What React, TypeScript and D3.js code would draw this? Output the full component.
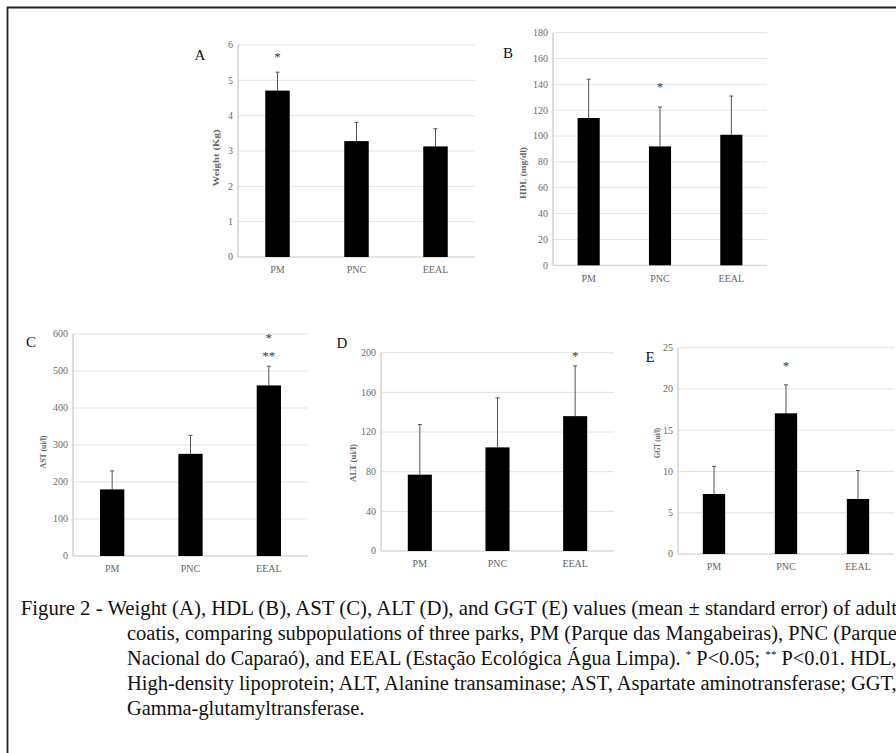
import React, { useLayoutEffect, useRef, useState } from 'react';
import * as d3 from 'd3';

const groups = ['PM', 'PNC', 'EEAL'];

const weightMean = [4.71, 3.28, 3.13];
const weightSE = [0.52, 0.53, 0.5];
const hdlMean = [114, 92, 101];
const hdlSE = [30, 30.5, 30];
const astMean = [180, 276, 461];
const astSE = [50, 50, 52];
const altMean = [77, 104.5, 136];
const altSE = [50.5, 50, 50.7];
const ggtMean = [7.27, 17.05, 6.67];
const ggtSE = [3.35, 3.45, 3.45];

// significance marks per group
const weightStars = [['*'], [], []];
const hdlStars = [[], ['*'], []];
const astStars = [[], [], ['*', '**']];
const altStars = [[], [], ['*']];
const ggtStars = [[], ['*'], []];

const captionLines = [
  'Figure 2 - Weight (A), HDL (B), AST (C), ALT (D), and GGT (E) values (mean ± standard error) of adult',
  'coatis, comparing subpopulations of three parks, PM (Parque das Mangabeiras), PNC (Parque',
  'Nacional do Caparaó), and EEAL (Estação Ecológica Água Limpa). |*| P<0.05; |**| P<0.01. HDL,',
  'High-density lipoprotein; ALT, Alanine transaminase; AST, Aspartate aminotransferase; GGT,',
  'Gamma-glutamyltransferase.',
];

type PanelProps = {
  letter: string;
  title: string;
  titleLen: number;
  mean: number[];
  se: number[];
  stars: string[][];
  max: number;
  step: number;
  x0: number;
  x1: number;
  yTop: number;
  yBottom: number;
  letterX: number;
  letterY: number;
  titleX: number;
  titleY: number;
  starY: number[];
};

const serifStyle = { fontFamily: "'Liberation Serif', 'Times New Roman', 'DejaVu Serif', serif" };

const Panel = (p: PanelProps) => {
  const x = d3.scalePoint<string>().domain(groups).range([p.x0, p.x1]).padding(0.5);
  const y = d3.scaleLinear().domain([0, p.max]).range([p.yBottom, p.yTop]);
  const bw = x.step() * 0.31;
  const ticks = d3.range(0, p.max + p.step / 2, p.step);
  return (
    <g style={serifStyle}>
      {ticks.map((t) => (
        <g key={t}>
          <line x1={p.x0} x2={p.x1} y1={y(t)} y2={y(t)} stroke={t === 0 ? '#c8c8c8' : '#e3e3e3'} strokeWidth={1} />
          <text x={p.x0 - 5} y={y(t)} dy="0.33em" textAnchor="end" fontSize={10} fill="#6a6a6a">
            {t}
          </text>
        </g>
      ))}
      <line x1={p.x0} x2={p.x0} y1={p.yTop} y2={p.yBottom} stroke="#bdbdbd" strokeWidth={1} />
      {groups.map((g, i) => {
        const cx = x(g) as number;
        const top = y(p.mean[i] + p.se[i]);
        return (
          <g key={g}>
            <line x1={cx} x2={cx} y1={top} y2={y(p.mean[i])} stroke="#555" strokeWidth={1} />
            <line x1={cx - 2} x2={cx + 2} y1={top} y2={top} stroke="#555" strokeWidth={1} />
            <rect x={cx - bw / 2} y={y(p.mean[i])} width={bw} height={p.yBottom - y(p.mean[i])} fill="#000" />
            <text x={cx} y={p.yBottom + 13} dy="0.33em" textAnchor="middle" fontSize={10} fill="#666">
              {g}
            </text>
            {p.stars[i].map((s, k) => (
              <text key={k} x={cx} y={p.starY[k]} dy="0.6em" textAnchor="middle" fontSize={13} fill="#333">
                {s}
              </text>
            ))}
          </g>
        );
      })}
      <text x={p.letterX} y={p.letterY} dy="0.35em" textAnchor="middle" fontSize={15} fill="#111">
        {p.letter}
      </text>
      <text
        transform={`translate(${p.titleX},${p.titleY}) rotate(-90)`}
        textAnchor="middle"
        dy="0.35em"
        fontSize={9}
        fontWeight="bold"
        fill="#666"
        textLength={p.titleLen}
        lengthAdjust="spacingAndGlyphs"
      >
        {p.title}
      </text>
    </g>
  );
};

const Caption = () => {
  const refs = useRef<(SVGTextElement | null)[]>([]);
  const [scales, setScales] = useState<number[]>(captionLines.map(() => 0.8));
  const starts = [20.7, 127, 127, 127, 127];
  const ends = [898, 897, 897, 897, 0];
  const baseY = [615, 640, 665, 690, 715];

  useLayoutEffect(() => {
    const lens = refs.current.map((el) => (el ? el.getComputedTextLength() : 1));
    const s = lens.map((l, i) => (ends[i] ? (ends[i] - starts[i]) / l : 0));
    s[4] = d3.mean(s.slice(1, 4)) as number;
    setScales(s);
  }, []);

  return (
    <g style={serifStyle} fontSize={20} fill="#111">
      {captionLines.map((line, i) => {
        const parts = line.split('|');
        return (
          <text
            key={i}
            ref={(el) => {
              refs.current[i] = el;
            }}
            transform={`translate(${starts[i]},${baseY[i]}) scale(${scales[i]},1)`}
          >
            {parts.map((pt, k) =>
              k % 2 === 1 ? (
                <tspan key={k} fontSize={11} dy={-7}>
                  {pt}
                </tspan>
              ) : (
                <tspan key={k} dy={k > 0 ? 7 : 0}>
                  {pt}
                </tspan>
              )
            )}
          </text>
        );
      })}
    </g>
  );
};

export default function App() {
  return (
    <svg width={896} height={753} style={{ position: 'absolute', left: 0, top: 0, background: '#fff' }}>
      <rect x={0} y={0} width={896} height={753} fill="#fff" />
      <path d="M7.5,760 V7.5 H900" fill="none" stroke="#222" strokeWidth={1.8} />
      <Panel
        letter="A" title="Weight (Kg)" titleLen={57}
        mean={weightMean} se={weightSE} stars={weightStars}
        max={6} step={1} x0={238} x1={475} yTop={45} yBottom={257}
        letterX={200} letterY={55} titleX={216} titleY={158} starY={[53]}
      />
      <Panel
        letter="B" title="HDL (mg/dl)" titleLen={52}
        mean={hdlMean} se={hdlSE} stars={hdlStars}
        max={180} step={20} x0={553} x1={767} yTop={32.7} yBottom={265.3}
        letterX={508} letterY={53} titleX={523} titleY={173} starY={[83]}
      />
      <Panel
        letter="C" title="AST (ui/l)" titleLen={33}
        mean={astMean} se={astSE} stars={astStars}
        max={600} step={100} x0={73} x1={308} yTop={334} yBottom={556}
        letterX={31} letterY={342} titleX={43} titleY={452} starY={[334, 352]}
      />
      <Panel
        letter="D" title="ALT (ui/l)" titleLen={38}
        mean={altMean} se={altSE} stars={altStars}
        max={200} step={40} x0={381} x1={614} yTop={352.7} yBottom={551}
        letterX={342} letterY={343} titleX={353} titleY={463} starY={[352]}
      />
      <Panel
        letter="E" title="GGT (ui/l)" titleLen={30}
        mean={ggtMean} se={ggtSE} stars={ggtStars}
        max={25} step={5} x0={678} x1={894} yTop={347.7} yBottom={554}
        letterX={650} letterY={357} titleX={657} titleY={443} starY={[362]}
      />
      <Caption />
    </svg>
  );
}
